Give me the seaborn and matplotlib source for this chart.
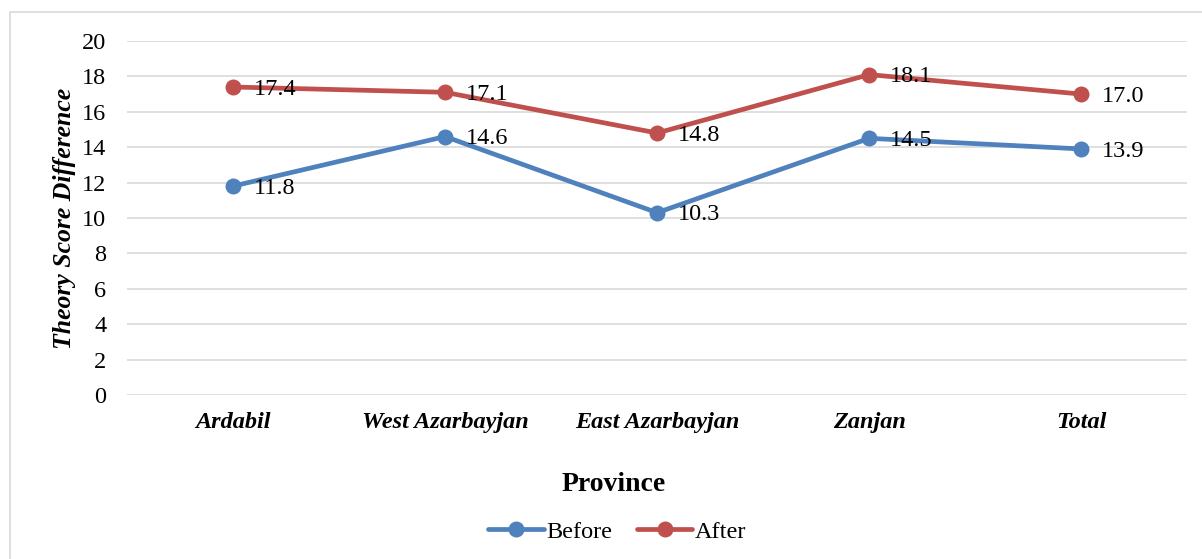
import matplotlib
matplotlib.use("Agg")
import matplotlib.pyplot as plt
import seaborn as sns
import pandas as pd
from matplotlib.patches import Rectangle

provinces = ["Ardabil", "West Azarbayjan", "East Azarbayjan", "Zanjan", "Total"]
before = [11.8, 14.6, 10.3, 14.5, 13.9]
after = [17.4, 17.1, 14.8, 18.1, 17.0]
series_names = ["Before", "After"]
yticks = [0, 2, 4, 6, 8, 10, 12, 14, 16, 18, 20]

df = pd.DataFrame({
    "Province": provinces * 2,
    "Value": before + after,
    "Series": [series_names[0]] * len(provinces) + [series_names[1]] * len(provinces),
})

sns.set_theme(style="white")
plt.rcParams["font.family"] = ["Liberation Serif", "DejaVu Serif"]
plt.rcParams["text.color"] = "black"
plt.rcParams["axes.labelcolor"] = "black"
plt.rcParams["xtick.color"] = "black"
plt.rcParams["ytick.color"] = "black"

fig = plt.figure(figsize=(12.02, 5.59), dpi=100)
ax = fig.add_axes([0.1057, 0.2934, 0.882, 0.6333])

palette = {"Before": "#4F81BD", "After": "#C0504D"}
sns.lineplot(data=df, x="Province", y="Value", hue="Series", palette=palette,
             marker="o", markersize=11.5, linewidth=3.4, markeredgewidth=0,
             sort=False, ax=ax, legend=True)

ax.set_xlim(-0.5, len(provinces) - 0.5)
ax.set_ylim(0, 20)
ax.set_yticks(yticks)
ax.set_yticklabels([str(t) for t in yticks], fontsize=17.5, color="black")
ax.set_xticks(range(len(provinces)))
ax.set_xticklabels(provinces, fontsize=17.5, fontweight="bold", fontstyle="italic",
                   color="black")
ax.tick_params(axis="x", length=0, pad=12)
ax.tick_params(axis="y", length=0, pad=15)
ax.grid(axis="y", color="#D9D9D9", linewidth=1.2)
ax.set_axisbelow(True)
for s in ax.spines.values():
    s.set_visible(False)

ax.set_ylabel("Theory Score Difference", fontsize=18.5, fontweight="bold",
              fontstyle="italic", color="black", labelpad=4)
ax.set_xlabel("Province", fontsize=20, fontweight="bold", color="black")
ax.xaxis.set_label_coords((614 - 127) / 1060, (395 - 485) / 354)
ax.xaxis.label.set_va("center")

for vals in (before, after):
    for i, v in enumerate(vals):
        ax.annotate(f"{v:.1f}", (i, v), xytext=(15, -1.5), textcoords="offset points",
                    ha="left", va="center", fontsize=17.5, color="black")

handles, labels = ax.get_legend_handles_labels()
leg = ax.legend(handles, labels, loc="center", bbox_to_anchor=((617 - 127) / 1060, (395 - 532) / 354),
                ncol=2, frameon=False, fontsize=17.5, handlelength=2.3, columnspacing=1.0,
                handletextpad=0.1)
for t in leg.get_texts():
    t.set_color("black")

fig.patches.append(Rectangle((10 / 1202, -0.01), 1.1, 1 - 12 / 559 + 0.01,
                             transform=fig.transFigure, fill=False,
                             edgecolor="#D9D9D9", linewidth=1.2, zorder=-1))

fig.savefig("out.png", dpi=100)
